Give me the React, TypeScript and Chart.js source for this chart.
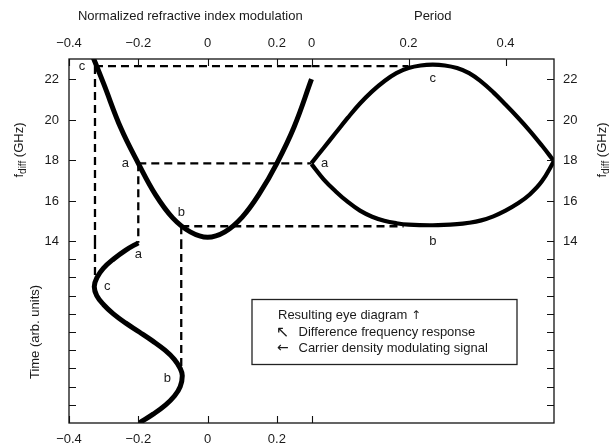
import React, { useEffect, useRef } from "react";
import { Chart, registerables } from "chart.js";

Chart.register(...registerables);

// Difference-frequency response: f_diff (GHz) versus normalized refractive index modulation
const parabolaMod = [-0.335, -0.3, -0.25, -0.2, -0.15, -0.1, -0.05, 0, 0.05, 0.1, 0.15, 0.2, 0.25, 0.3];
const parabolaFreq = [23.28, 21.78, 19.57, 17.84, 16.28, 15.13, 14.45, 14.18, 14.45, 15.18, 16.35, 17.84, 19.65, 22.0];

// Resulting eye diagram: f_diff (GHz) over one period
const eyeUpperPeriod = [0, 0.025, 0.05, 0.075, 0.1, 0.125, 0.15, 0.175, 0.2, 0.225, 0.25, 0.275, 0.3, 0.325, 0.35, 0.375, 0.4, 0.425, 0.45, 0.475, 0.5];
const eyeUpperFreq = [17.85, 18.6, 19.35, 20.1, 20.8, 21.4, 21.9, 22.3, 22.55, 22.68, 22.72, 22.68, 22.55, 22.3, 21.88, 21.35, 20.75, 20.12, 19.45, 18.72, 17.95];
const eyeLowerPeriod = [0, 0.025, 0.05, 0.075, 0.1, 0.125, 0.15, 0.175, 0.2, 0.25, 0.3, 0.325, 0.35, 0.375, 0.4, 0.425, 0.45, 0.475, 0.5];
const eyeLowerFreq = [17.8, 17.05, 16.45, 15.93, 15.5, 15.2, 15.0, 14.88, 14.81, 14.78, 14.83, 14.9, 15.02, 15.22, 15.5, 15.85, 16.3, 16.95, 17.95];

// Carrier density modulating signal: modulation versus time (arb. units)
const signalTime = [9.9, 9.5, 9.0, 8.5, 8.0, 7.5, 7.0, 6.5, 6.0, 5.5, 5.0, 4.5, 4.0, 3.5, 3.0, 2.6, 2.0, 1.5, 1.0, 0.5, 0];
const signalMod = [-0.2, -0.236, -0.272, -0.301, -0.319, -0.327, -0.32, -0.3, -0.272, -0.237, -0.197, -0.158, -0.123, -0.096, -0.079, -0.073, -0.079, -0.095, -0.121, -0.156, -0.197];

// Operating points a, b, c
const pointNames = ["a", "b", "c"];
const pointMod = [-0.2, -0.076, -0.325];
const pointFreq = [17.84, 14.73, 22.65];
const pointTimeEnd = [9.9, 3.1, 8.0];       // where the vertical guide meets the signal
const pointPeriodEnd = [0, 0.19, 0.2];      // where the horizontal guide meets the eye diagram

// Axis ticks
const modTicks = [-0.4, -0.2, 0, 0.2];
const periodTicks = [0, 0.2, 0.4];
const freqTicks = [22, 20, 18, 16, 14];
const timeTicks = [1, 2, 3, 4, 5, 6, 7, 8, 9];

const FONT = "'Liberation Sans', Arial, Helvetica, 'DejaVu Sans', sans-serif";
const ARROW_FONT = "'DejaVu Sans', sans-serif";
const INK = "#1a1a1a";

type P = { x: number; y: number };
const zip = (xs: number[], ys: number[]): P[] => xs.map((x, i) => ({ x, y: ys[i] }));

const curve = (data: P[], xAxisID: string, yAxisID: string, width: number) => ({
  data,
  xAxisID,
  yAxisID,
  showLine: true,
  borderColor: "#000",
  borderWidth: width,
  pointRadius: 0,
  tension: 0.4,
  fill: false,
  borderCapStyle: "butt" as const,
  borderJoinStyle: "round" as const,
});

const guide = (data: P[], xAxisID: string, yAxisID: string) => ({
  data,
  xAxisID,
  yAxisID,
  showLine: true,
  borderColor: "#000",
  borderWidth: 2.3,
  borderDash: [8, 5],
  pointRadius: 0,
  tension: 0,
  fill: false,
});

const fmt = (v: number) => (v < 0 ? "\u2212" + Math.abs(v) : String(v));

function rotatedTitle(ctx: CanvasRenderingContext2D, x: number, cy: number, parts: { t: string; sub?: boolean }[]) {
  ctx.save();
  ctx.translate(x, cy);
  ctx.rotate(-Math.PI / 2);
  ctx.textBaseline = "alphabetic";
  ctx.textAlign = "left";
  const widths = parts.map((p) => {
    ctx.font = `${p.sub ? 10 : 13}px ${FONT}`;
    return ctx.measureText(p.t).width;
  });
  let pos = -widths.reduce((s, w) => s + w, 0) / 2;
  parts.forEach((p, i) => {
    ctx.font = `${p.sub ? 10 : 13}px ${FONT}`;
    ctx.fillText(p.t, pos, p.sub ? 3 : 0);
    pos += widths[i];
  });
  ctx.restore();
}

const axesPlugin = {
  id: "panelAxes",
  afterDatasetsDraw(chart: any) {
    const { ctx, chartArea: a, scales } = chart;
    const xm = scales.xMod, xp = scales.xPer, yf = scales.yFreq, yt = scales.yTime;
    ctx.save();

    // frame
    ctx.strokeStyle = "#111";
    ctx.lineWidth = 1.3;
    ctx.strokeRect(a.left, a.top, a.right - a.left, a.bottom - a.top);

    // inward tick marks
    const TL = 7;
    ctx.lineWidth = 1.1;
    ctx.beginPath();
    const vTick = (x: number, top: boolean, bottom: boolean) => {
      const px = Math.round(x) + 0.5;
      if (top) { ctx.moveTo(px, a.top); ctx.lineTo(px, a.top + TL); }
      if (bottom) { ctx.moveTo(px, a.bottom); ctx.lineTo(px, a.bottom - TL); }
    };
    const hTick = (y: number) => {
      const py = Math.round(y) + 0.5;
      ctx.moveTo(a.left, py); ctx.lineTo(a.left + TL, py);
      ctx.moveTo(a.right, py); ctx.lineTo(a.right - TL, py);
    };
    modTicks.forEach((v) => vTick(xm.getPixelForValue(v), true, true));
    periodTicks.forEach((v, i) => vTick(xp.getPixelForValue(v), true, i === 0));
    freqTicks.forEach((v) => hTick(yf.getPixelForValue(v)));
    timeTicks.forEach((v) => hTick(yt.getPixelForValue(v)));
    ctx.stroke();

    // tick labels
    ctx.fillStyle = INK;
    ctx.font = `13px ${FONT}`;
    ctx.textAlign = "center";
    ctx.textBaseline = "alphabetic";
    modTicks.forEach((v) => {
      const x = xm.getPixelForValue(v);
      ctx.fillText(fmt(v), x, a.top - 12);
      ctx.fillText(fmt(v), x, a.bottom + 20);
    });
    periodTicks.forEach((v) => ctx.fillText(fmt(v), xp.getPixelForValue(v), a.top - 12));
    ctx.textBaseline = "middle";
    freqTicks.forEach((v) => {
      const y = yf.getPixelForValue(v) + 0.5;
      ctx.textAlign = "right";
      ctx.fillText(String(v), a.left - 10, y);
      ctx.textAlign = "left";
      ctx.fillText(String(v), a.right + 9, y);
    });

    // titles
    ctx.textAlign = "center";
    ctx.textBaseline = "alphabetic";
    ctx.fillText("Normalized refractive index modulation", xm.getPixelForValue(-0.05), 19.5);
    ctx.fillText("Period", xp.getPixelForValue(0.25), 19.5);
    const yMidUpper = (yf.getPixelForValue(23) + yf.getPixelForValue(14)) / 2;
    const yMidLower = (yt.getPixelForValue(0) + yt.getPixelForValue(10)) / 2;
    const fdiff = [{ t: "f" }, { t: "diff", sub: true }, { t: " (GHz)" }];
    rotatedTitle(ctx, a.left - 46, yMidUpper, fdiff);
    rotatedTitle(ctx, a.right + 52, yMidUpper, fdiff);
    rotatedTitle(ctx, a.left - 30.5, yMidLower, [{ t: "Time (arb. units)" }]);

    // operating point letters
    ctx.font = `13px ${FONT}`;
    ctx.textAlign = "center";
    ctx.textBaseline = "middle";
    const put = (t: string, x: number, y: number) => ctx.fillText(t, x, y);
    const [ia, ib, ic] = [0, 1, 2];
    put(pointNames[ia], xm.getPixelForValue(pointMod[ia]) - 13, yf.getPixelForValue(pointFreq[ia]));
    put(pointNames[ib], xm.getPixelForValue(pointMod[ib]), yf.getPixelForValue(pointFreq[ib]) - 14);
    put(pointNames[ic], xm.getPixelForValue(pointMod[ic]) - 13, yf.getPixelForValue(pointFreq[ic]));
    put(pointNames[ia], xp.getPixelForValue(0) + 13, yf.getPixelForValue(pointFreq[ia]) + 0.5);
    put(pointNames[ic], xp.getPixelForValue(0.25), yf.getPixelForValue(22.72) + 14);
    put(pointNames[ib], xp.getPixelForValue(0.25), yf.getPixelForValue(14.78) + 16);
    put(pointNames[ia], xm.getPixelForValue(signalMod[0]), yt.getPixelForValue(signalTime[0]) + 12);
    put(pointNames[ic], xm.getPixelForValue(-0.327) + 13, yt.getPixelForValue(7.5));
    put(pointNames[ib], xm.getPixelForValue(-0.073) - 15, yt.getPixelForValue(2.6) + 3);

    // explanation box
    ctx.lineWidth = 1.3;
    ctx.strokeStyle = "#222";
    ctx.strokeRect(252, 299.5, 265, 65);
    ctx.textAlign = "left";
    ctx.textBaseline = "alphabetic";
    ctx.font = `13px ${FONT}`;
    const line1 = "Resulting eye diagram ";
    ctx.fillText(line1, 278, 318.5);
    const w1 = ctx.measureText(line1).width;
    ctx.fillText("Difference frequency response", 298.5, 335.5);
    ctx.fillText("Carrier density modulating signal", 298.5, 351.5);
    ctx.font = `12px ${ARROW_FONT}`;
    ctx.fillText("\u2191", 278 + w1, 318.5);
    ctx.font = `16px ${ARROW_FONT}`;
    ctx.fillText("\u2196", 276, 337);
    ctx.font = `14px ${ARROW_FONT}`;
    ctx.fillText("\u2190", 277, 352);

    ctx.restore();
  },
};

export default function App() {
  const ref = useRef<HTMLCanvasElement>(null);

  useEffect(() => {
    const datasets: any[] = [
      curve(zip(parabolaMod, parabolaFreq), "xMod", "yFreq", 5),
      curve(zip(signalMod, signalTime), "xMod", "yTime", 5),
      curve(zip(eyeUpperPeriod, eyeUpperFreq), "xPer", "yFreq", 4.2),
      curve(zip(eyeLowerPeriod, eyeLowerFreq), "xPer", "yFreq", 4.2),
    ];
    pointMod.forEach((m, i) => {
      // horizontal guide across the modulation panel, continued into the period panel
      datasets.push(guide([{ x: m, y: pointFreq[i] }, { x: 0.3, y: pointFreq[i] }], "xMod", "yFreq"));
      if (pointPeriodEnd[i] > 0) {
        datasets.push(guide([{ x: 0, y: pointFreq[i] }, { x: pointPeriodEnd[i], y: pointFreq[i] }], "xPer", "yFreq"));
      }
      // vertical guide down to the modulating signal
      datasets.push(guide([{ x: m, y: pointFreq[i] }, { x: m, y: 14 }], "xMod", "yFreq"));
      datasets.push(guide([{ x: m, y: 10 }, { x: m, y: pointTimeEnd[i] }], "xMod", "yTime"));
    });

    const chart = new Chart(ref.current as HTMLCanvasElement, {
      type: "scatter",
      data: { datasets },
      options: {
        animation: false,
        responsive: false,
        events: [],
        layout: { padding: { left: 69, right: 55, top: 59, bottom: 24 } },
        plugins: { legend: { display: false }, tooltip: { enabled: false } },
        scales: {
          xMod: { type: "linear", axis: "x", position: "bottom", min: -0.4, max: 1.0, display: false },
          xPer: { type: "linear", axis: "x", position: "top", min: -0.5, max: 0.5, display: false },
          yFreq: { type: "linear", axis: "y", position: "left", min: 5, max: 23, display: false },
          yTime: { type: "linear", axis: "y", position: "right", min: 0, max: 20, display: false },
        },
      } as any,
      plugins: [axesPlugin],
    });
    return () => chart.destroy();
  }, []);

  return (
    <div style={{ position: "fixed", left: 0, top: 0, width: 609, height: 447, background: "#fff" }}>
      <canvas ref={ref} width={609} height={447} style={{ display: "block", width: 609, height: 447 }} />
    </div>
  );
}
